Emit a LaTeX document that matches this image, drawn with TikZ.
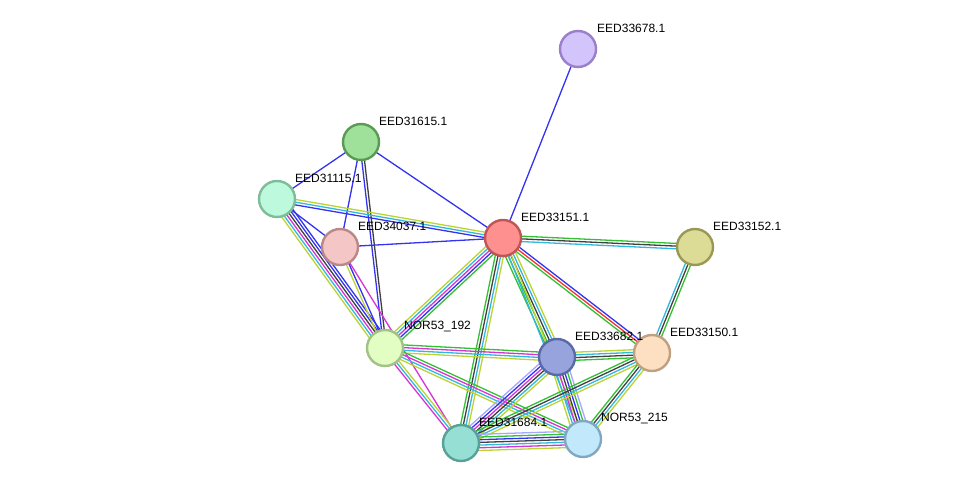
\documentclass[tikz,border=0pt]{standalone}
\usepackage{fontspec}
\setmainfont{Liberation Sans}
\usetikzlibrary{calc}
\pgfdeclarelayer{background}
\pgfsetlayers{background,main}
\definecolor{cB}{HTML}{3333F0}
\definecolor{cK}{HTML}{404040}
\definecolor{cM}{HTML}{D633D6}
\definecolor{cC}{HTML}{33B8DD}
\definecolor{cY}{HTML}{BBD433}
\definecolor{cG}{HTML}{33C033}
\definecolor{cR}{HTML}{F03333}
\definecolor{cL}{HTML}{A6A6FF}
\tikzset{
  prot/.style={circle, minimum size=36pt, inner sep=0pt, line width=2.4pt},
  lbl/.style={anchor=west, inner sep=0pt, font=\fontsize{12}{14}\selectfont},
}
\newcommand\edgeb[4]{%
  \foreach \c [count=\i] in {#4} {%
    \pgfmathsetmacro\off{(\i-1-(#3-1)/2)*2.7}%
    \draw[\c, line width=1.3pt] ($(#1)!\off pt!90:(#2)$) -- ($(#2)!\off pt!-90:(#1)$);
  }%
}
\begin{document}
\begin{tikzpicture}[x=1pt,y=-1pt]
\useasboundingbox (0,0) rectangle (976,489);
% nodes
\node[prot, fill={rgb,255:red,212;green,196;blue,252}, draw={rgb,255:red,153;green,128;blue,200}] (n678) at (578,49) {};
\node[prot, fill={rgb,255:red,159;green,224;blue,154}, draw={rgb,255:red,90;green,154;blue,85}] (n615) at (361,142) {};
\node[prot, fill={rgb,255:red,189;green,250;blue,221}, draw={rgb,255:red,126;green,189;blue,153}] (n115) at (277,199) {};
\node[prot, fill={rgb,255:red,244;green,198;blue,198}, draw={rgb,255:red,187;green,136;blue,136}] (n037) at (340,247) {};
\node[prot, fill={rgb,255:red,255;green,144;blue,144}, draw={rgb,255:red,192;green,85;blue,85}] (n151) at (503,238) {};
\node[prot, fill={rgb,255:red,220;green,220;blue,150}, draw={rgb,255:red,153;green,153;blue,85}] (n152) at (695,247) {};
\node[prot, fill={rgb,255:red,226;green,254;blue,194}, draw={rgb,255:red,162;green,194;blue,136}] (n192) at (385,348) {};
\node[prot, fill={rgb,255:red,151;green,163;blue,221}, draw={rgb,255:red,90;green,106;blue,168}] (n682) at (557,357) {};
\node[prot, fill={rgb,255:red,253;green,224;blue,194}, draw={rgb,255:red,192;green,160;blue,128}] (n150) at (652,353) {};
\node[prot, fill={rgb,255:red,149;green,223;blue,212}, draw={rgb,255:red,88;green,160;blue,152}] (n684) at (461,443) {};
\node[prot, fill={rgb,255:red,194;green,232;blue,251}, draw={rgb,255:red,128;green,168;blue,192}] (n215) at (583,439) {};
% labels
\node[lbl] (l678) at ($(n678)+(19,-21)$) {EED33678.1};
\node[lbl] (l615) at ($(n615)+(18,-21)$) {EED31615.1};
\node[lbl] (l115) at ($(n115)+(18,-21)$) {EED31115.1};
\node[lbl] (l037) at ($(n037)+(18,-21)$) {EED34037.1};
\node[lbl] (l151) at ($(n151)+(18,-21)$) {EED33151.1};
\node[lbl] (l152) at ($(n152)+(18,-21)$) {EED33152.1};
\node[lbl] (l192) at ($(n192)+(19,-21)$) {NOR53\_192};
\node[lbl] (l682) at ($(n682)+(18,-21)$) {EED33682.1};
\node[lbl] (l150) at ($(n150)+(18,-21)$) {EED33150.1};
\node[lbl] (l684) at ($(n684)+(18,-21)$) {EED31684.1};
\node[lbl] (l215) at ($(n215)+(18,-21)$) {NOR53\_215};
% edges
\begin{pgfonlayer}{background}
\edgeb{n678}{n151}{1}{cB}
\edgeb{n615}{n115}{1}{cB}
\edgeb{n615}{n151}{1}{cB}
\edgeb{n615}{n037}{1}{cB}
\edgeb{n615}{n192}{2}{cB,cK}
\edgeb{n115}{n151}{3}{cB,cC,cY}
\edgeb{n115}{n037}{1}{cB}
\edgeb{n115}{n192}{6}{cY,cC,cM,cK,cB,cB}
\edgeb{n037}{n151}{1}{cB}
\edgeb{n037}{n192}{2}{cY,cB}
\edgeb{n037}{n684}{1}{cM}
\edgeb{n151}{n152}{3}{cC,cK,cG}
\edgeb{n151}{n150}{3}{cG,cR,cB}
\edgeb{n151}{n192}{5}{cY,cC,cM,cB,cG}
\edgeb{n151}{n682}{5}{cG,cG,cK,cC,cY}
\edgeb{n151}{n684}{4}{cG,cK,cC,cY}
\edgeb{n151}{n215}{2}{cC,cY}
\edgeb{n152}{n150}{3}{cC,cK,cG}
\edgeb{n192}{n682}{4}{cY,cC,cM,cG}
\edgeb{n192}{n684}{3}{cM,cC,cY}
\edgeb{n192}{n215}{4}{cY,cC,cM,cG}
\edgeb{n682}{n150}{4}{cG,cK,cC,cY}
\edgeb{n682}{n684}{6}{cL,cB,cM,cK,cC,cY}
\edgeb{n682}{n215}{7}{cY,cC,cM,cK,cB,cG,cL}
\edgeb{n150}{n684}{4}{cG,cK,cC,cY}
\edgeb{n150}{n215}{4}{cG,cK,cC,cY}
\edgeb{n684}{n215}{7}{cY,cM,cC,cK,cB,cG,cL}
\end{pgfonlayer}
\end{tikzpicture}
\end{document}
